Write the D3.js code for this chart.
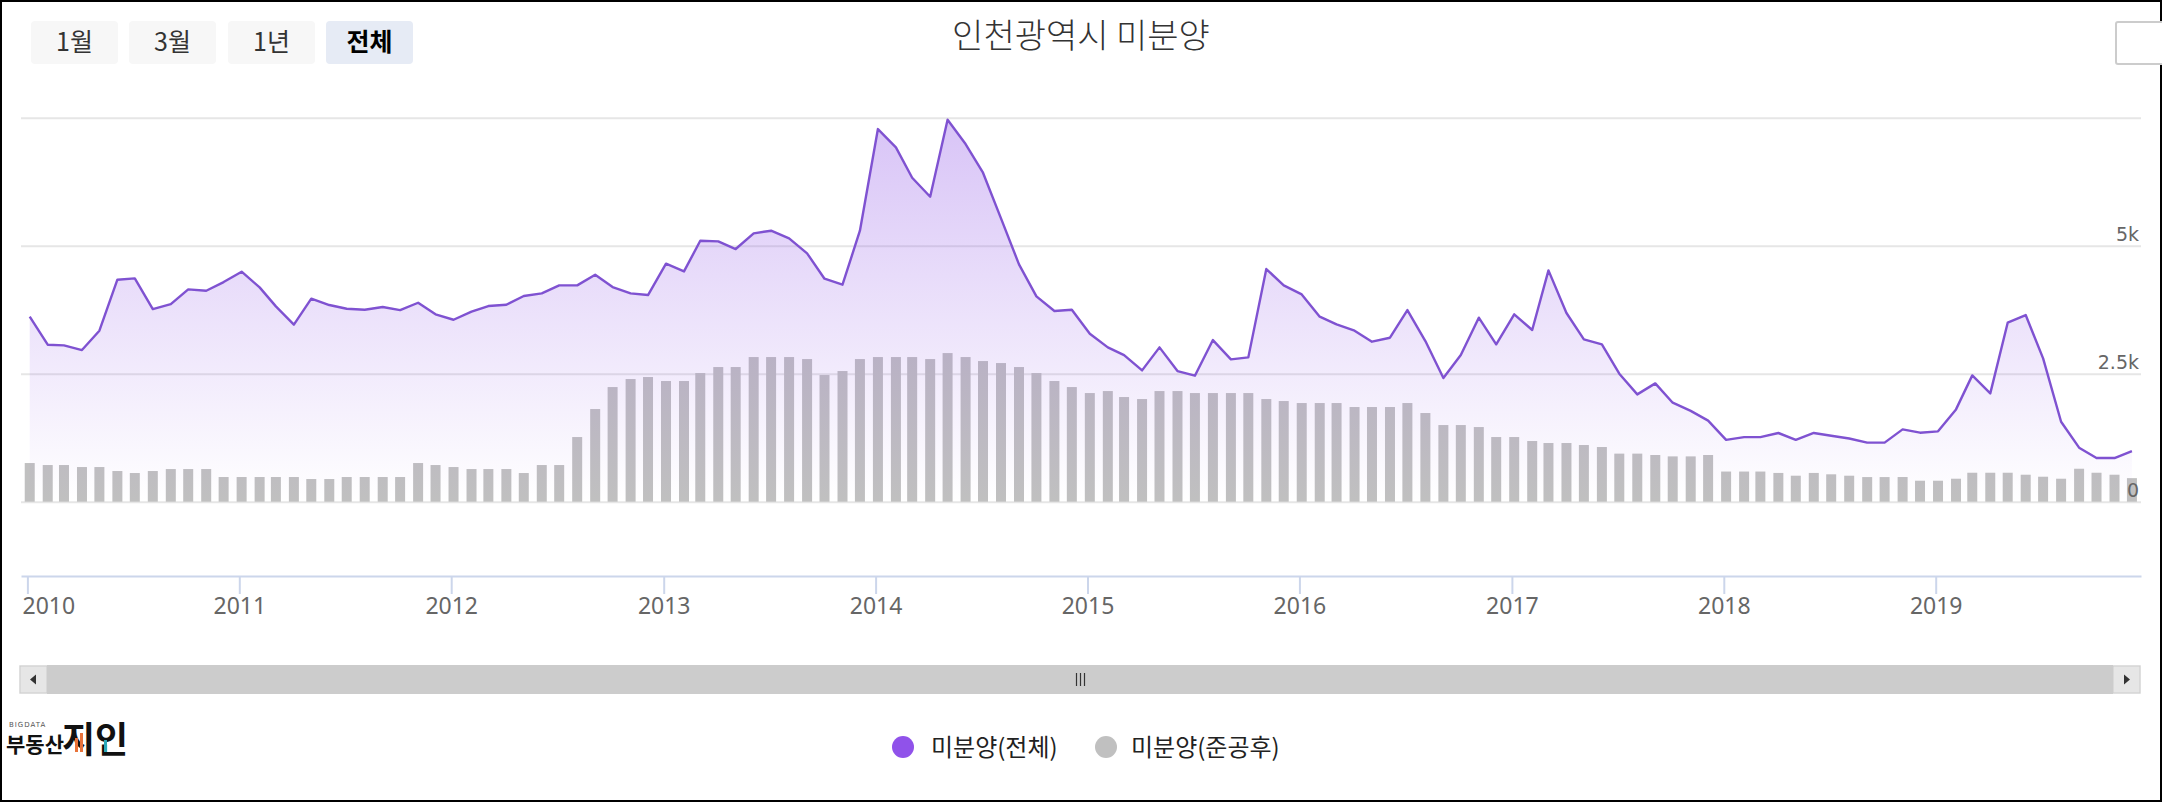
<!DOCTYPE html>
<html>
<head>
<meta charset="utf-8">
<script src="https://cdn.jsdelivr.net/npm/d3@7/dist/d3.min.js"></script>
<style>
  html, body { margin: 0; padding: 0; background: #fff; }
  svg { display: block; }
</style>
</head>
<body>
<svg id="chart" width="2162" height="802"></svg>
<script>
// ---------------- DATA ----------------
const title = "인천광역시 미분양";
const rangeButtons = ["1월", "3월", "1년", "전체"];
const seriesNames = ["미분양(전체)", "미분양(준공후)"];
const yearLabels = ["2010","2011","2012","2013","2014","2015","2016","2017","2018","2019"];
const yTickValues = [0, 2500, 5000, 7500];
const yTickLabels = ["0", "2.5k", "5k", ""];

// 미분양(전체): monthly, Jan 2010 .. Dec 2019
const totalValues = [
  3613, 3066, 3053, 2962, 3340, 4336, 4362, 3763, 3860, 4147, 4121, 4290,
  4492, 4186, 3815, 3457, 3965, 3841, 3769, 3750, 3802, 3743, 3886, 3659,
  3554, 3711, 3821, 3847, 4017, 4069, 4225, 4225, 4433, 4192, 4069, 4036,
  4648, 4498, 5097, 5084, 4935, 5241, 5293, 5143, 4850, 4355, 4238, 5293,
  7278, 6920, 6328, 5957, 7460, 6985, 6425, 5534, 4635, 4010, 3724, 3750,
  3281, 3014, 2864, 2565, 3014, 2552, 2461, 3157, 2780, 2819, 4544, 4225,
  4049, 3613, 3463, 3340, 3125, 3203, 3743, 3138, 2415, 2864, 3594, 3073,
  3659, 3353, 4518, 3685, 3170, 3073, 2500, 2096, 2311, 1934, 1773, 1584,
  1208, 1262, 1262, 1342, 1208, 1342, 1288, 1235, 1154, 1154, 1413, 1348,
  1374, 1803, 2467, 2116, 3496, 3646, 2799, 1562, 1055, 853, 853, 990
];
// 미분양(준공후): monthly, Jan 2010 .. Dec 2019
const completedValues = [
  755, 716, 716, 677, 677, 599, 560, 599, 638, 638, 638, 482,
  482, 482, 482, 482, 443, 443, 482, 482, 482, 482, 755, 716,
  677, 638, 638, 638, 560, 716, 716, 1263, 1810, 2239, 2396, 2435,
  2357, 2357, 2513, 2630, 2630, 2825, 2825, 2825, 2786, 2474, 2552, 2786,
  2825, 2825, 2825, 2786, 2903, 2825, 2747, 2708, 2630, 2513, 2357, 2239,
  2122, 2161, 2044, 2005, 2161, 2161, 2122, 2122, 2122, 2122, 2005, 1966,
  1927, 1927, 1927, 1849, 1849, 1849, 1927, 1732, 1497, 1497, 1458, 1263,
  1263, 1185, 1146, 1146, 1107, 1068, 939, 939, 912, 885, 885, 912,
  589, 589, 589, 562, 508, 562, 535, 508, 481, 481, 482, 410,
  410, 449, 566, 566, 566, 527, 488, 449, 644, 566, 527, 460
];
const dates = totalValues.map((_, i) => new Date(2010 + Math.floor(i / 12), i % 12, 5));

// ---------------- LAYOUT ----------------
const W = 2162, H = 802;
const plotL = 21, plotR = 2141;
const svg = d3.select("#chart");

const KR = "'Noto Sans CJK KR', 'Noto Sans', sans-serif";

const xBase = d3.scaleTime()
  .domain([new Date(2010, 0, 1), new Date(2019, 0, 1)])
  .range([27.4, 1935.7]);
const x = d3.scaleTime()
  .domain([xBase.invert(plotL), xBase.invert(plotR)])
  .range([plotL, plotR]);
const y = d3.scaleLinear().domain([0, 7500]).range([501.7, 117.7]);

// outer frame
svg.append("rect").attr("x", 1).attr("y", 1).attr("width", W - 2).attr("height", H - 2)
  .attr("fill", "#fff").attr("stroke", "#000").attr("stroke-width", 2);

// defs: gradient
const defs = svg.append("defs");
const grad = defs.append("linearGradient").attr("id", "areaGrad")
  .attr("gradientUnits", "userSpaceOnUse")
  .attr("x1", 0).attr("x2", 0).attr("y1", y(7500)).attr("y2", y(0));
grad.append("stop").attr("offset", "0%").attr("stop-color", "rgb(140,80,230)").attr("stop-opacity", 0.34);
grad.append("stop").attr("offset", "100%").attr("stop-color", "rgb(140,80,230)").attr("stop-opacity", 0.0);

// range buttons
const btnX = [31, 129, 228, 326];
const btnG = svg.append("g");
rangeButtons.forEach((label, i) => {
  const sel = i === 3;
  btnG.append("rect").attr("x", btnX[i]).attr("y", 21).attr("width", 87).attr("height", 43)
    .attr("rx", 4).attr("fill", sel ? "#e6ebf5" : "#f7f7f7");
  btnG.append("text").attr("x", btnX[i] + 43.5).attr("y", 51)
    .attr("text-anchor", "middle").attr("font-family", KR).attr("font-size", 25)
    .attr("font-weight", sel ? "bold" : "normal")
    .attr("fill", sel ? "#000" : "#333").text(label);
});

// title
svg.append("text").attr("x", 1081).attr("y", 48).attr("text-anchor", "middle")
  .attr("font-family", KR).attr("font-size", 34).attr("font-weight", 300)
  .attr("fill", "#333").text(title);

// export button box (partially cut off)
svg.append("rect").attr("x", 2116).attr("y", 22).attr("width", 60).attr("height", 42)
  .attr("fill", "#fff").attr("stroke", "#cccccc").attr("stroke-width", 2).attr("rx", 2);

// grid lines
const yAxis = d3.axisRight(y).tickValues(yTickValues).tickSize(plotR - plotL)
  .tickFormat((d, i) => yTickLabels[i]);
const yG = svg.append("g").attr("transform", `translate(${plotL},0)`).call(yAxis);
yG.select(".domain").remove();
yG.selectAll(".tick line").attr("stroke", "#e6e6e6").attr("stroke-width", 2);
yG.selectAll(".tick text").remove();

// bars
svg.append("g").selectAll("rect").data(completedValues).join("rect")
  .attr("x", (d, i) => x(dates[i]) - 5)
  .attr("width", 10)
  .attr("y", d => y(d))
  .attr("height", d => y(0) - y(d))
  .attr("fill", "#c0c0c0");

// area + line
const pts = totalValues.map((v, i) => ({ date: dates[i], v }));
const area = d3.area().x(d => x(d.date)).y0(y(0)).y1(d => y(d.v));
const line = d3.line().x(d => x(d.date)).y(d => y(d.v));
svg.append("path").datum(pts).attr("d", area).attr("fill", "url(#areaGrad)");
svg.append("path").datum(pts).attr("d", line).attr("fill", "none")
  .attr("stroke", "#7f52d1").attr("stroke-width", 2.4).attr("stroke-linejoin", "round");

// y labels (on top of marks)
svg.append("g").selectAll("text").data(yTickValues).join("text")
  .attr("x", plotR - 2).attr("y", d => y(d) - 5)
  .attr("text-anchor", "end").attr("font-family", "'DejaVu Sans', sans-serif")
  .attr("font-size", 19).attr("fill", "#666")
  .text((d, i) => yTickLabels[i]);

// x axis
const yearDates = yearLabels.map(s => new Date(+s, 0, 1));
const xAxis = d3.axisBottom(x).tickValues(yearDates).tickSize(18).tickSizeOuter(0)
  .tickFormat((d, i) => yearLabels[i]);
const xG = svg.append("g").attr("transform", "translate(0,576)").call(xAxis);
xG.select(".domain").attr("stroke", "#ccd6eb").attr("stroke-width", 2);
xG.selectAll(".tick line").attr("stroke", "#ccd6eb").attr("stroke-width", 2);
xG.selectAll(".tick text").attr("y", 38).attr("dy", 0)
  .attr("font-family", "'Noto Sans', sans-serif").attr("font-size", 23).attr("fill", "#666");
xG.selectAll(".tick text").filter((d, i) => i === 0)
  .attr("text-anchor", "start").attr("x", plotL - x(yearDates[0]) + 1);

// scrollbar
const sb = svg.append("g");
sb.append("rect").attr("x", 19).attr("y", 665).attr("width", 2122).attr("height", 29).attr("fill", "#f2f2f2");
sb.append("rect").attr("x", 47).attr("y", 665).attr("width", 2066).attr("height", 29).attr("fill", "#cccccc");
sb.append("rect").attr("x", 20).attr("y", 666).attr("width", 27).attr("height", 27)
  .attr("fill", "#e6e6e6").attr("stroke", "#cccccc").attr("stroke-width", 1);
sb.append("rect").attr("x", 2113).attr("y", 666).attr("width", 27).attr("height", 27)
  .attr("fill", "#e6e6e6").attr("stroke", "#cccccc").attr("stroke-width", 1);
sb.append("path").attr("d", "M30,679.5 L36,674.5 L36,684.5 Z").attr("fill", "#333");
sb.append("path").attr("d", "M2130,679.5 L2124,674.5 L2124,684.5 Z").attr("fill", "#333");
[1076.5, 1080.5, 1084.5].forEach(gx => {
  sb.append("line").attr("x1", gx).attr("x2", gx).attr("y1", 673).attr("y2", 686)
    .attr("stroke", "#333").attr("stroke-width", 1.2);
});

// legend
const legend = svg.append("g");
const legendItems = [
  { name: seriesNames[0], color: "#9052ea", cx: 903, tx: 931 },
  { name: seriesNames[1], color: "#c0c0c0", cx: 1106, tx: 1131 }
];
legendItems.forEach(it => {
  legend.append("circle").attr("cx", it.cx).attr("cy", 747).attr("r", 11).attr("fill", it.color);
  legend.append("text").attr("x", it.tx).attr("y", 756).attr("font-family", KR)
    .attr("font-size", 24).attr("font-weight", "normal").attr("fill", "#222").text(it.name);
});

// logo
const logo = svg.append("g");
logo.append("text").attr("x", 9).attr("y", 727).attr("font-family", "'DejaVu Sans', sans-serif")
  .attr("font-size", 7).attr("letter-spacing", 1).attr("fill", "#555").text("BIGDATA");
logo.append("text").attr("x", 6).attr("y", 752).attr("font-family", KR)
  .attr("font-size", 21).attr("font-weight", "bold").attr("fill", "#111").text("부동산");
logo.append("text").attr("x", 62).attr("y", 753).attr("font-family", KR)
  .attr("font-size", 36).attr("font-weight", "bold").attr("fill", "#111").text("지인");
logo.append("rect").attr("x", 75).attr("y", 738).attr("width", 3).attr("height", 14).attr("fill", "#e8733a");
logo.append("rect").attr("x", 80).attr("y", 733).attr("width", 3).attr("height", 19).attr("fill", "#e8733a");
logo.append("rect").attr("x", 104).attr("y", 740).attr("width", 3).attr("height", 12).attr("fill", "#2aa8b8");
</script>
</body>
</html>
